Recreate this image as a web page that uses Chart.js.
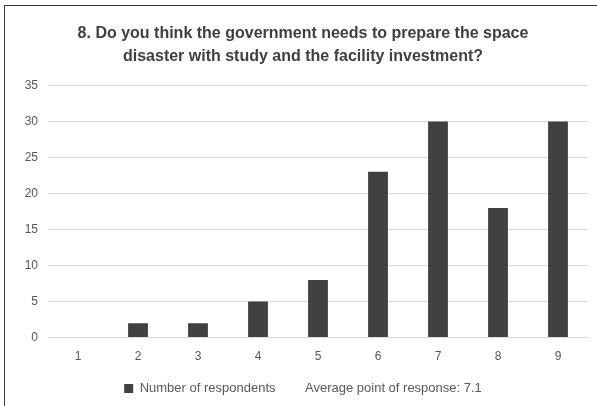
<!DOCTYPE html>
<html>
<head>
<meta charset="utf-8">
<script src="https://cdn.jsdelivr.net/npm/chart.js@4.4.1/dist/chart.umd.min.js"></script>
<style>
  html, body { margin: 0; padding: 0; background: #fff; }
  body { width: 597px; height: 406px; position: relative; overflow: hidden; }
  .frame { position: absolute; left: 4px; top: 5px; width: 620px; height: 420px; border: 1px solid #3a3a3a; box-sizing: border-box; }
  #wrap { position: absolute; left: 0; top: 0; width: 597px; height: 406px; }
</style>
</head>
<body>
<div class="frame"></div>
<div id="wrap"><canvas id="c"></canvas></div>
<script>
// 응답 점수(1~9)별 응답자 수
const categories = ['1', '2', '3', '4', '5', '6', '7', '8', '9'];
const respondents = [0, 2, 2, 5, 8, 23, 30, 18, 30];
const titleLines = [
  '8. Do you think the government needs to prepare the space',
  'disaster with study and the facility investment?',
];
const seriesLabel = 'Number of respondents';
const averageLabel = 'Average point of response: 7.1';

const FONT = "'Liberation Sans', Arial, sans-serif";
const ink = '#595959';
const barColor = '#404040';

new Chart(document.getElementById('c'), {
  type: 'bar',
  data: {
    labels: categories,
    datasets: [{
      label: seriesLabel, data: respondents,
      backgroundColor: barColor, borderWidth: 0,
      barPercentage: 0.66, categoryPercentage: 0.5,
    }],
  },
  options: {
    responsive: true, maintainAspectRatio: false, animation: false,
    layout: { padding: { left: 18, right: 9, top: 18, bottom: 1 } },
    plugins: {
      title: {
        display: true, text: titleLines, color: '#404040',
        font: { family: FONT, size: 16, weight: 'bold', lineHeight: 1.45 },
        padding: { top: 4, bottom: 17 },
      },
      legend: {
        position: 'bottom',
        labels: {
          color: ink, font: { family: FONT, size: 13 }, boxWidth: 9, boxHeight: 9, padding: 14,
          generateLabels: () => [
            { text: seriesLabel, fillStyle: barColor, strokeStyle: barColor, lineWidth: 0, fontColor: ink },
            { text: averageLabel, fillStyle: 'rgba(0,0,0,0)', strokeStyle: 'rgba(0,0,0,0)', lineWidth: 0, fontColor: ink },
          ],
        },
        onClick: null,
      },
      tooltip: { enabled: false },
    },
    scales: {
      x: {
        grid: { display: false },
        border: { color: '#d9d9d9' },
        ticks: { color: ink, font: { family: FONT, size: 12 }, padding: 4 },
      },
      y: {
        min: 0, max: 35,
        ticks: { stepSize: 5, color: ink, font: { family: FONT, size: 12 }, padding: 10 },
        grid: { color: '#d9d9d9', drawTicks: false },
        border: { display: false },
        afterFit: (axis) => { axis.width = 30; },
      },
    },
  },
});
</script>
</body>
</html>
